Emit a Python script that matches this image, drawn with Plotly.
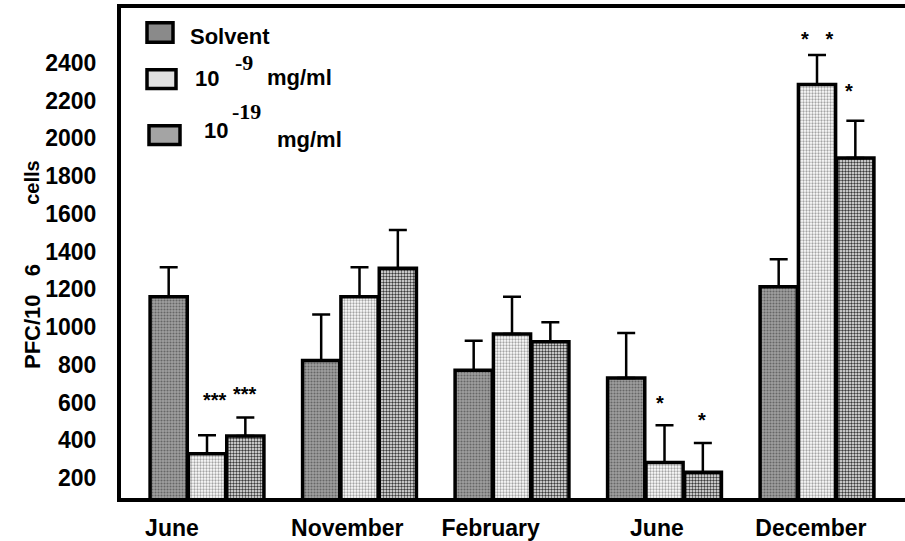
import plotly.graph_objects as go

# ---- data -------------------------------------------------------------
months = ["June", "November", "February", "June", "December"]
series_names = ["Solvent", "10<sup>-9</sup> mg/ml", "10<sup>-19</sup> mg/ml"]

solvent = [1161, 823, 771, 730, 1213]
solvent_err = [156, 244, 156, 239, 146]

dose_9 = [328, 1161, 963, 282, 2286]
dose_9_err = [99, 156, 198, 198, 156]

dose_19 = [422, 1312, 922, 230, 1896]
dose_19_err = [99, 203, 104, 156, 197]

# significance marks: (month index, series index, text)
stars = [(0, 1, "***"), (0, 2, "***"), (3, 1, "*"), (3, 2, "*"),
         (4, 1, "*\u00a0\u00a0\u00a0*"), (4, 2, "*")]

y_ticks = list(range(200, 2401, 200))

# ---- layout constants -------------------------------------------------
W, H = 905, 541
PL, PR, PT, PB = 121, 905, 8, 507          # plot area in pixels
X_RANGE = [-0.564, 4.577]
Y_RANGE = [94, 2691]
BARGAP = 0.246
SLOT = (1 - BARGAP) / 3
FONT = "Liberation Sans, Arial, sans-serif"
SERIF = "Liberation Serif, Times New Roman, serif"

# per-month shift of the month label, per-star pixel nudges
label_shift = [-0.23, -0.08, -0.14, -0.05, -0.04]
star_nudge = [(8, 35), (0, 23), (-5, 22), (-1, 23), (0, 16), (-6, 30)]


def px_x(p):
    return (p - PL) / (PR - PL)


def px_y(p):
    return (PB - p) / (PB - PT)


styles = [
    dict(bg="#a0a0a0", fg="#666666", size=3, solidity=0.4),
    dict(bg="#ffffff", fg="#a4a4a4", size=3, solidity=0.45),
    dict(bg="#f4f4f4", fg="#3a3a3a", size=3, solidity=0.5),
]
values = [solvent, dose_9, dose_19]
errors = [solvent_err, dose_9_err, dose_19_err]
xs = list(range(len(months)))

fig = go.Figure()
for name, vals, errs, st in zip(series_names, values, errors, styles):
    fig.add_trace(go.Bar(
        x=xs, y=vals, name=name,
        marker=dict(
            color=st["bg"],
            line=dict(color="black", width=3.5),
            pattern=dict(shape=".", bgcolor=st["bg"], fgcolor=st["fg"],
                         size=st["size"], solidity=st["solidity"],
                         fillmode="replace"),
        ),
        error_y=dict(type="data", symmetric=False, array=errs,
                     arrayminus=[0] * len(errs), color="black",
                     thickness=2.5, width=9),
    ))

annotations = []
for (g, s, txt), (dx, dy) in zip(stars, star_nudge):
    annotations.append(dict(
        x=g + (s - 1) * SLOT, y=values[s][g] + errors[s][g],
        xref="x", yref="y", text=txt, showarrow=False,
        xshift=dx, yshift=dy,
        font=dict(family=FONT, size=20, color="black", weight="bold"),
    ))

# legend drawn by hand: swatches + labels
swatches = [((147, 23, 173, 43), "#8a8a8a"),
            ((147, 71, 176, 90), "#e0e0e0"),
            ((149, 128, 180, 147), "#a4a4a4")]
shapes = []
for (x0, y0, x1, y1), col in swatches:
    shapes.append(dict(type="rect", xref="paper", yref="paper",
                       x0=px_x(x0), x1=px_x(x1), y0=px_y(y1), y1=px_y(y0),
                       fillcolor=col, line=dict(color="black", width=3.5)))

legend_texts = [
    ("Solvent", 188, 37, FONT),
    ("10", 193, 80, FONT), ("-9", 233, 63, SERIF), ("mg/ml", 265, 79, FONT),
    ("10", 202, 133, FONT), ("-19", 230, 113, SERIF), ("mg/ml", 275, 142, FONT),
]
for txt, lx, ly, fam in legend_texts:
    annotations.append(dict(
        x=px_x(lx), y=px_y(ly), xref="paper", yref="paper",
        xanchor="left", yanchor="middle", text=txt, showarrow=False,
        font=dict(family=fam, size=22, color="black", weight="bold"),
    ))

# rotated y-axis title pieces
for txt, ty, size in [("PFC/10", 338, 22), ("6", 275, 22), ("cells", 186, 20)]:
    annotations.append(dict(
        x=px_x(32), y=px_y(ty), xref="paper", yref="paper",
        xanchor="center", yanchor="middle", text=txt, textangle=-90,
        showarrow=False,
        font=dict(family=FONT, size=size, color="black", weight="bold"),
    ))

fig.update_layout(
    width=W, height=H,
    margin=dict(l=PL, r=W - PR, t=PT, b=H - PB),
    paper_bgcolor="white", plot_bgcolor="white",
    barmode="group", bargap=BARGAP, bargroupgap=0.03,
    showlegend=False,
    shapes=shapes, annotations=annotations,
    font=dict(family=FONT, color="black"),
)
fig.update_xaxes(
    range=X_RANGE, showgrid=False, zeroline=False,
    showline=True, linecolor="black", linewidth=4, mirror=True,
    tickmode="array", tickvals=[i + d for i, d in zip(xs, label_shift)],
    ticktext=months, ticks="", ticklabelstandoff=6,
    tickfont=dict(family=FONT, size=23, color="black", weight="bold"),
)
fig.update_yaxes(
    range=Y_RANGE, showgrid=False, zeroline=False,
    showline=True, linecolor="black", linewidth=4,
    tickmode="array", tickvals=y_ticks, ticks="", ticklabelstandoff=16,
    tickfont=dict(family=FONT, size=23, color="black", weight="bold"),
)

fig.write_html("out.html")
